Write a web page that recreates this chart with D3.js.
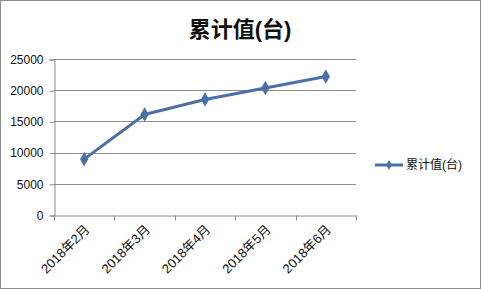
<!DOCTYPE html>
<html><head><meta charset="utf-8">
<script src="https://cdn.jsdelivr.net/npm/d3@7"></script>
<style>body{margin:0;background:#fff}svg{display:block}text{font-family:"Liberation Sans","Noto Sans CJK SC",sans-serif}</style>
</head><body>
<script>
const categories = ["2018年2月","2018年3月","2018年4月","2018年5月","2018年6月"];
const values = [8950, 16100, 18500, 20350, 22200];
const yTicks = [0,5000,10000,15000,20000,25000];
const seriesName = "累计值(台)";
const title = "累计值(台)";

(function(){
const W=481,H=289;
const svg=d3.select("body").append("svg").attr("width",W).attr("height",H);
svg.append("rect").attr("x",0.5).attr("y",0.5).attr("width",W-1).attr("height",H-1).attr("fill","#fff").attr("stroke","#8c8c8c");

const pl=54,pr=356,pt=59,pb=215;
const x=d3.scaleBand().domain(categories).range([pl,pr]);
const y=d3.scaleLinear().domain([0,25000]).range([pb,pt]);

svg.append("text").attr("x",240).attr("y",37).attr("text-anchor","middle")
  .attr("font-size",22).attr("font-weight","bold").attr("fill","#111").text(title);

svg.append("g").selectAll("line").data(yTicks.filter(d=>d>0)).join("line")
  .attr("x1",pl).attr("x2",pr).attr("y1",d=>Math.round(y(d))+0.5).attr("y2",d=>Math.round(y(d))+0.5)
  .attr("stroke","#8c8c8c").attr("stroke-width",1);

const ya=svg.append("g").attr("transform",`translate(${pl+0.5},0.5)`)
  .call(d3.axisLeft(y).tickValues(yTicks).tickSize(5).tickPadding(6).tickFormat(d3.format("d")));
ya.select(".domain").attr("stroke","#8c8c8c");
ya.selectAll(".tick line").attr("stroke","#8c8c8c");
ya.selectAll("text").attr("font-size",12).attr("fill","#111").attr("font-family","Liberation Sans, sans-serif");

const xa=svg.append("g").attr("transform",`translate(0,${pb+0.5})`)
  .call(d3.axisBottom(x).tickSize(0).tickFormat(""));
xa.select(".domain").attr("stroke","#8c8c8c");
const tickPos=categories.map(c=>x(c)).concat([pr]);
xa.selectAll("line.tk").data(tickPos).join("line").attr("class","tk")
  .attr("x1",d=>Math.round(d)+0.5).attr("x2",d=>Math.round(d)+0.5).attr("y1",0).attr("y2",5).attr("stroke","#8c8c8c");
svg.append("g").selectAll("text").data(categories).join("text")
  .attr("transform",d=>`translate(${x(d)+x.bandwidth()/2+3},${pb+12}) rotate(-45)`)
  .attr("text-anchor","end").attr("dy","0.35em").attr("font-size",13).attr("fill","#111").text(d=>d);

const cx=d=>x(d)+x.bandwidth()/2;
const data=categories.map((c,i)=>({c,v:values[i]}));
svg.append("path").datum(data).attr("fill","none").attr("stroke","#4a70a8").attr("stroke-width",3)
  .attr("stroke-linejoin","round")
  .attr("d",d3.line().x(d=>cx(d.c)).y(d=>y(d.v)));
const sym=d3.symbol().type(d3.symbolDiamond).size(60);
svg.append("g").selectAll("path").data(data).join("path")
  .attr("transform",d=>`translate(${cx(d.c)},${y(d.v)})`).attr("d",sym).attr("fill","#4a70a8");

const lg=svg.append("g");
lg.append("line").attr("x1",375).attr("x2",403).attr("y1",165).attr("y2",165).attr("stroke","#4a70a8").attr("stroke-width",3);
lg.append("path").attr("transform","translate(389,165)").attr("d",d3.symbol().type(d3.symbolDiamond).size(30)).attr("fill","#4a70a8");
lg.append("text").attr("x",406).attr("y",165).attr("dy","0.35em").attr("font-size",12).attr("fill","#111").text(seriesName);
})();
</script>
</body></html>
